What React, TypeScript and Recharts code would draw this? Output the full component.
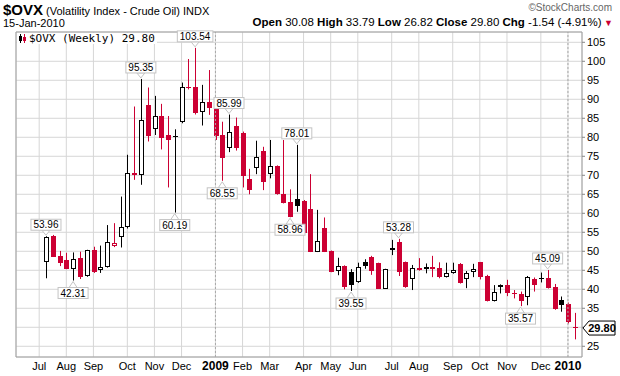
import React from "react";
import {
  ComposedChart,
  Bar,
  XAxis,
  YAxis,
  CartesianGrid,
  ReferenceLine,
  ReferenceDot,
  ReferenceArea,
} from "recharts";

// weekly candles, week 1 = 14-Jul-2008 ... week 79 = 11-Jan-2010
const opens = [
  47.1, 53.9, 48.8, 47.7, 45.4, 48.2, 43.4, 50.3, 45.0, 45.8,
  51.5, 53.7, 56.3, 70.6, 70.1, 88.5, 82.1, 85.6, 80.6, 80.4,
  84.1, 93.3, 93.2, 86.6, 89.4, 87.6, 80.6, 77.3, 83.0, 81.1,
  69.0, 71.8, 76.4, 70.3, 72.5, 65.1, 63.1, 63.7, 63.2, 61.1,
  49.9, 56.1, 50.1, 44.7, 46.1, 44.5, 41.8, 47.1, 48.5, 46.8,
  40.2, 50.3, 52.4, 47.1, 42.6, 45.6, 45.3, 45.8, 45.5, 43.2,
  44.2, 46.7, 42.7, 44.6, 47.1, 43.5, 36.9, 41.0, 41.1, 39.0,
  38.8, 37.9, 42.7, 43.0, 43.0, 40.5, 37.2, 36.1, 30.08,
];
const highs = [
  53.96, 54.3, 50.1, 49.6, 49.7, 49.9, 50.4, 51.2, 51.5, 56.9,
  57.4, 64.4, 75.4, 88.1, 95.35, 93.1, 90.9, 88.8, 85.6, 82.1,
  94.4, 100.6, 103.54, 93.8, 97.7, 87.8, 84.1, 85.99, 85.2, 81.5,
  71.7, 79.1, 77.5, 79.3, 72.6, 79.3, 66.3, 78.01, 63.5, 70.3,
  60.9, 58.9, 50.2, 48.3, 46.3, 45.3, 47.0, 47.9, 48.8, 47.0,
  45.4, 53.0, 53.28, 47.3, 46.4, 48.2, 46.8, 48.8, 47.1, 47.0,
  47.0, 46.9, 44.8, 46.7, 47.2, 43.8, 41.1, 41.3, 42.5, 39.8,
  39.4, 43.5, 43.1, 44.4, 45.09, 41.4, 38.1, 36.5, 33.79,
];
const lows = [
  42.9, 48.5, 46.1, 45.3, 42.31, 42.7, 43.3, 44.3, 44.3, 45.7,
  51.1, 51.0, 56.0, 68.8, 67.5, 78.9, 80.6, 76.8, 66.8, 60.19,
  83.7, 92.6, 86.0, 83.1, 85.9, 79.3, 68.55, 76.1, 76.5, 66.8,
  65.0, 70.3, 66.1, 69.2, 64.9, 62.6, 58.96, 60.4, 54.7, 49.8,
  49.8, 49.8, 44.5, 43.7, 40.0, 39.55, 41.7, 45.4, 43.8, 40.1,
  40.1, 49.0, 43.5, 40.4, 39.8, 44.9, 44.2, 43.2, 42.9, 43.1,
  44.1, 41.5, 40.3, 43.2, 42.6, 36.8, 36.8, 38.9, 38.2, 37.6,
  35.57, 35.8, 39.4, 41.8, 40.2, 34.6, 34.1, 31.0, 26.82,
];
const closes = [
  53.7, 48.6, 46.8, 45.4, 48.0, 43.2, 50.3, 44.6, 45.8, 52.5,
  52.3, 56.3, 70.5, 70.0, 84.6, 80.4, 85.6, 79.7, 79.4, 80.0,
  93.2, 93.0, 86.5, 89.2, 87.6, 80.4, 74.5, 81.3, 77.1, 69.9,
  66.0, 74.8, 68.3, 72.5, 65.0, 62.8, 59.1, 61.9, 54.8, 49.9,
  52.7, 49.9, 44.6, 46.1, 40.7, 41.1, 45.8, 46.2, 44.9, 40.2,
  45.4, 50.9, 44.6, 40.5, 45.5, 45.2, 45.8, 45.4, 43.2, 44.2,
  45.1, 41.6, 44.4, 45.3, 43.3, 36.9, 39.4, 41.2, 39.0, 38.8,
  36.8, 43.2, 41.0, 42.9, 40.4, 34.8, 35.9, 31.34, 29.8,
];

// week index of the first week of each month
const monthTicks = [0, 4, 8, 13, 17, 21, 26, 30, 34, 39, 43, 47, 52, 56, 61, 65, 69, 74, 78];
const monthLabels = [
  "Jul", "Aug", "Sep", "Oct", "Nov", "Dec", "2009", "Feb", "Mar", "Apr",
  "May", "Jun", "Jul", "Aug", "Sep", "Oct", "Nov", "Dec", "2010",
];
const yearTicks = [26, 78];
const priceTicks = [25, 30, 35, 40, 45, 50, 55, 60, 65, 70, 75, 80, 85, 90, 95, 100, 105];

// labelled highs / lows
const peaks = [
  { i: 1, v: 53.96, side: "top" },
  { i: 5, v: 42.31, side: "bottom" },
  { i: 15, v: 95.35, side: "top" },
  { i: 20, v: 60.19, side: "bottom" },
  { i: 23, v: 103.54, side: "top" },
  { i: 27, v: 68.55, side: "bottom" },
  { i: 28, v: 85.99, side: "top" },
  { i: 37, v: 58.96, side: "bottom" },
  { i: 38, v: 78.01, side: "top" },
  { i: 46, v: 39.55, side: "bottom" },
  { i: 53, v: 53.28, side: "top" },
  { i: 71, v: 35.57, side: "bottom" },
  { i: 75, v: 45.09, side: "top" },
];

const lastClose = 29.8;

const RED = "#cc0033";
const FONT = "'Liberation Sans', Arial, sans-serif";
const X_DOMAIN: [number, number] = [-3.42, 80.07];
const Y_DOMAIN: [number, number] = [22.18, 107.71];

const data = opens.map((o, k) => ({
  i: k + 1,
  open: o,
  high: highs[k],
  low: lows[k],
  close: closes[k],
  prev: k > 0 ? closes[k - 1] : o,
}));

function Candle(props: any) {
  const { x, y, width, height, payload } = props;
  if (x == null || y == null) return null;
  const top = Math.min(y, y + height);
  const h = Math.abs(height);
  const { open, high, low, close, prev } = payload;
  const k = h / (high - low);
  const yv = (v: number) => top + (high - v) * k;
  const cx = Math.round(x + width / 2) + 0.5;
  const color = close < prev ? RED : "#000";
  const hollow = close > open;
  const bTop = Math.round(yv(Math.max(open, close)));
  const bBot = Math.round(yv(Math.min(open, close)));
  const bh = Math.max(bBot - bTop, 1);
  return (
    <g>
      <line x1={cx} x2={cx} y1={top} y2={top + h} stroke={color} strokeWidth={1} />
      {hollow ? (
        <rect x={cx - 2} y={bTop + 0.5} width={4} height={Math.max(bh - 1, 1)} fill="#fff" stroke={color} />
      ) : (
        <rect x={cx - 2.5} y={bTop} width={5} height={bh} fill={color} />
      )}
    </g>
  );
}

function PeakLabel(props: any) {
  const { cx, cy, side, text } = props;
  if (cx == null || cy == null) return null;
  const w = (text.length - 1) * 5.56 + 2.78 + 5;
  const bh = 11;
  const up = side === "top";
  const boxY = up ? cy - 6 - bh : cy + 7;
  const tipY = up ? cy - 1 : cy + 1;
  const baseY = up ? cy - 6 : cy + 7;
  return (
    <g>
      <polygon
        points={`${cx - 4},${baseY} ${cx},${tipY} ${cx + 4},${baseY}`}
        fill="#fff"
        stroke="#c4c4c4"
      />
      <rect x={cx - w / 2} y={boxY} width={w} height={bh} fill="#fff" stroke="#c4c4c4" />
      <text
        x={cx}
        y={boxY + bh - 2}
        textAnchor="middle"
        fontSize={10}
        fontFamily={FONT}
        fill="#000"
      >
        {text}
      </text>
    </g>
  );
}

function LastLabel(props: any) {
  const { cx, cy } = props;
  if (cx == null || cy == null) return null;
  const x0 = cx + 1;
  return (
    <g>
      <polygon
        points={`${x0},${cy} ${x0 + 6},${cy - 7} ${x0 + 32},${cy - 7} ${x0 + 32},${cy + 7} ${x0 + 6},${cy + 7}`}
        fill="#fff"
        stroke="#000"
      />
      <text x={x0 + 19} y={cy + 4} textAnchor="middle" fontSize={11} fontWeight="bold" fontFamily={FONT}>
        {lastClose.toFixed(2)}
      </text>
    </g>
  );
}

// the last-price box covers the 30 label
function PriceTick(props: any) {
  const { x, y, payload } = props;
  if (Math.abs(payload.value - lastClose) < 2.5) return null;
  return (
    <text x={x} y={y + 4} textAnchor="start" fontSize={11} fontFamily={FONT} fill="#000">
      {payload.value}
    </text>
  );
}

function MonthTick(props: any) {
  const { x, y, payload } = props;
  const idx = monthTicks.indexOf(payload.value);
  const label = monthLabels[idx];
  const isYear = yearTicks.includes(payload.value);
  return (
    <text
      x={x}
      y={y + 13}
      textAnchor="middle"
      fontSize={isYear ? 12 : 11}
      fontWeight={isYear ? "bold" : "normal"}
      fontFamily={FONT}
      fill="#000"
    >
      {label}
    </text>
  );
}

export default function App() {
  return (
    <div
      style={{
        position: "absolute",
        left: 0,
        top: 0,
        width: 620,
        height: 376,
        background: "#fff",
        fontFamily: FONT,
      }}
    >
      <div style={{ position: "absolute", left: 3, top: 1, whiteSpace: "nowrap", fontSize: 11 }}>
        <span style={{ fontSize: 15, fontWeight: "bold" }}>$OVX</span>{" "}
        <span>(Volatility Index - Crude Oil)</span> <span>INDX</span>
      </div>
      <div style={{ position: "absolute", right: 8, top: 2, fontSize: 10, color: "#666" }}>
        ©StockCharts.com
      </div>
      <div style={{ position: "absolute", left: 3, top: 17, fontSize: 11 }}>15-Jan-2010</div>
      <div style={{ position: "absolute", right: 7, top: 16, fontSize: 11.5, whiteSpace: "nowrap" }}>
        <b>Open</b> 30.08 <b>High</b> 33.79 <b>Low</b> 26.82 <b>Close</b> 29.80 <b>Chg</b> -1.54 (-4.91%)
        <span style={{ color: RED, fontSize: 9 }}> ▼</span>
      </div>

      <ComposedChart
        width={620}
        height={376}
        data={data}
        margin={{ top: 32, right: 0, bottom: 0, left: 16 }}
      >
        <CartesianGrid stroke="#d6d6d6" />
        <XAxis
          dataKey="i"
          type="number"
          domain={X_DOMAIN}
          ticks={monthTicks}
          interval={0}
          allowDataOverflow
          tickLine={false}
          axisLine={false}
          tickSize={0}
          tickMargin={0}
          height={19}
          tick={<MonthTick />}
        />
        <YAxis
          orientation="right"
          type="number"
          domain={Y_DOMAIN}
          ticks={priceTicks}
          interval={0}
          allowDataOverflow
          width={38}
          axisLine={false}
          tickSize={3}
          tickMargin={2}
          tickLine={{ stroke: "#888" }}
          tick={<PriceTick />}
        />
        {yearTicks.map((t) => (
          <ReferenceLine key={t} x={t} stroke="#a8a8a8" strokeDasharray="2 2" />
        ))}
        <ReferenceArea
          x1={X_DOMAIN[0]}
          x2={X_DOMAIN[1]}
          y1={Y_DOMAIN[0]}
          y2={Y_DOMAIN[1]}
          fill="none"
          stroke="#a0a0a0"
          ifOverflow="visible"
        />
        <Bar
          dataKey={(d: any) => [d.low, d.high]}
          barSize={5}
          shape={<Candle />}
          isAnimationActive={false}
        />
        {peaks.map((p) => (
          <ReferenceDot
            key={p.i}
            x={p.i}
            y={p.v}
            r={0}
            ifOverflow="visible"
            shape={(props: any) => <PeakLabel {...props} side={p.side} text={p.v.toFixed(2)} />}
          />
        ))}
        <ReferenceDot
          x={X_DOMAIN[1]}
          y={lastClose}
          r={0}
          ifOverflow="visible"
          shape={(props: any) => <LastLabel {...props} />}
        />
      </ComposedChart>

      <div
        style={{
          position: "absolute",
          left: 17,
          top: 33,
          height: 11,
          padding: "0 2px",
          background: "#fff",
          fontFamily: "'DejaVu Sans Mono', monospace",
          fontSize: 11,
          lineHeight: "11px",
          whiteSpace: "nowrap",
          display: "flex",
          alignItems: "center",
        }}
      >
        <svg width={8} height={9} style={{ marginRight: 2 }}>
          <line x1={1.5} x2={1.5} y1={0} y2={9} stroke="#000" />
          <rect x={0} y={2} width={3} height={5} fill="#000" />
          <line x1={5.5} x2={5.5} y1={0} y2={9} stroke={RED} />
          <rect x={4} y={3} width={3} height={4} fill={RED} />
        </svg>
        $OVX (Weekly) 29.80
      </div>
    </div>
  );
}
